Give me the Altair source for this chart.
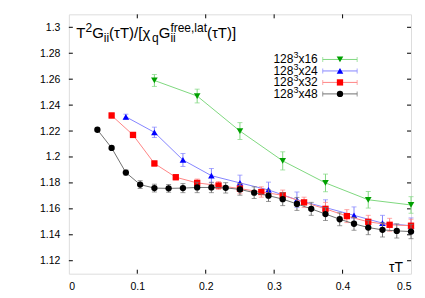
import altair as alt
import pandas as pd

FONT = "Liberation Sans"
W, H = 343, 260
XDOM = [0.0, 0.5]
YDOM = [1.11, 1.31]

# ---------------- data ----------------
series_names = ["128³x16", "128³x24", "128³x32", "128³x48"]
legend_base = ["128", "128", "128", "128"]
legend_sup = ["3", "3", "3", "3"]
legend_tail = ["x16", "x24", "x32", "x48"]

nt16_x = [0.125, 0.1875, 0.25, 0.3125, 0.375, 0.4375, 0.5]
nt16_y = [1.259, 1.247, 1.220, 1.197, 1.180, 1.167, 1.163]
nt16_e = [0.0046, 0.0053, 0.0065, 0.0070, 0.0068, 0.0064, 0.0064]

nt24_x = [0.0833, 0.125, 0.1667, 0.2083, 0.25, 0.2917, 0.3333, 0.375, 0.4167, 0.4583, 0.5]
nt24_y = [1.231, 1.219, 1.1977, 1.1856, 1.180, 1.1746, 1.167, 1.161, 1.155, 1.149, 1.147]
nt24_e = [0.002, 0.004, 0.005, 0.0055, 0.006, 0.006, 0.006, 0.006, 0.0065, 0.006, 0.006]

nt32_x = [0.0625, 0.09375, 0.125, 0.15625, 0.1875, 0.21875, 0.25, 0.28125, 0.3125,
          0.34375, 0.375, 0.40625, 0.4375, 0.46875, 0.5]
nt32_y = [1.232, 1.217, 1.195, 1.1844, 1.180, 1.178, 1.1756, 1.173, 1.1705,
          1.165, 1.160, 1.1544, 1.150, 1.1477, 1.147]
nt32_e = [0.002, 0.002, 0.002, 0.002, 0.003, 0.003, 0.004, 0.004, 0.004,
          0.004, 0.005, 0.005, 0.005, 0.005, 0.005]

nt48_x = [0.0417, 0.0625, 0.0833, 0.1042, 0.125, 0.1458, 0.1667, 0.1875, 0.2083,
          0.2292, 0.25, 0.2708, 0.2917, 0.3125, 0.3333, 0.3542, 0.375, 0.3958,
          0.4167, 0.4375, 0.4583, 0.4792, 0.5]
nt48_y = [1.221, 1.207, 1.188, 1.1787, 1.176, 1.1758, 1.176, 1.1765, 1.1765,
          1.1762, 1.175, 1.1725, 1.1702, 1.1675, 1.1638, 1.160, 1.156, 1.152,
          1.1485, 1.1456, 1.1438, 1.143, 1.1425]
nt48_e = [0.001, 0.001, 0.002, 0.003, 0.003, 0.003, 0.0035, 0.004, 0.004,
          0.004, 0.0045, 0.0045, 0.0045, 0.005, 0.005, 0.005, 0.005, 0.005,
          0.005, 0.0055, 0.0055, 0.0055, 0.0055]

x_ticks = [0.0, 0.1, 0.2, 0.3, 0.4, 0.5]
y_ticks = [1.12, 1.14, 1.16, 1.18, 1.20, 1.22, 1.24, 1.26, 1.28, 1.30]

# ---------------- styles ----------------
styles = [
    dict(shape="triangle-down", mark="#00a000", line="#80d880", size=44),
    dict(shape="triangle-up", mark="#0000ff", line="#8585ff", size=44),
    dict(shape="square", mark="#ff0000", line="#ff8585", size=40),
    dict(shape="circle", mark="#000000", line="#707070", size=40),
]
all_data = [(nt16_x, nt16_y, nt16_e), (nt24_x, nt24_y, nt24_e),
            (nt32_x, nt32_y, nt32_e), (nt48_x, nt48_y, nt48_e)]

xs = alt.Scale(domain=XDOM, nice=False, zero=False)
ys = alt.Scale(domain=YDOM, nice=False, zero=False)
xaxis = alt.Axis(values=x_ticks, format="~g", ticks=False, domain=False, grid=False,
                 labelFont=FONT, labelFontSize=10.5, labelColor="black",
                 labelPadding=8, title=None)
yaxis = alt.Axis(values=y_ticks, format="~g", ticks=False, domain=False, grid=False,
                 labelFont=FONT, labelFontSize=10.5, labelColor="black",
                 labelPadding=9, title=None)


def X(f):
    return alt.X(f, type="quantitative", scale=xs, axis=xaxis)


def Y(f):
    return alt.Y(f, type="quantitative", scale=ys, axis=yaxis)


CW = {"T": 0.611, "G": 0.778, "(": 0.333, ")": 0.333, "τ": 0.52, "/": 0.278, "[": 0.278,
      "]": 0.278, "χ": 0.52, "2": 0.556, "i": 0.222, "q": 0.556, "f": 0.278, "r": 0.333,
      "e": 0.556, ",": 0.278, "l": 0.222, "a": 0.556, "t": 0.278, "1": 0.556, "3": 0.556,
      "4": 0.556, "6": 0.556, "8": 0.556, "x": 0.5}


def tw(s, fs):
    return sum(CW.get(c, 0.55) for c in s) * fs


layers = []

# inside ticks (gnuplot style)
xt = pd.DataFrame({"v": x_ticks[1:-1]})
yt = pd.DataFrame({"v": y_ticks})
layers.append(alt.Chart(xt).mark_rule(color="black", strokeWidth=1).encode(
    x=X("v"), y=alt.value(H), y2=alt.value(H - 4)))
layers.append(alt.Chart(xt).mark_rule(color="black", strokeWidth=1).encode(
    x=X("v"), y=alt.value(0), y2=alt.value(4)))
layers.append(alt.Chart(yt).mark_rule(color="black", strokeWidth=1).encode(
    y=Y("v"), x=alt.value(0), x2=alt.value(4)))
layers.append(alt.Chart(yt).mark_rule(color="black", strokeWidth=1).encode(
    y=Y("v"), x=alt.value(W), x2=alt.value(W - 4)))

# data series
for name, (sx, sy, se), st in zip(series_names, all_data, styles):
    df = pd.DataFrame({"x": sx, "y": sy, "e": se})
    base = alt.Chart(df).transform_calculate(lo="datum.y - datum.e", hi="datum.y + datum.e")
    layers.append(base.mark_line(color=st["line"], strokeWidth=1).encode(x=X("x"), y=Y("y")))
    layers.append(base.mark_rule(color=st["line"], strokeWidth=1).encode(
        x=X("x"), y=Y("lo:Q"), y2="hi:Q"))
    layers.append(base.mark_tick(color=st["line"], orient="horizontal", size=5, thickness=1).encode(
        x=X("x"), y=Y("lo:Q")))
    layers.append(base.mark_tick(color=st["line"], orient="horizontal", size=5, thickness=1).encode(
        x=X("x"), y=Y("hi:Q")))
    layers.append(base.mark_point(shape=st["shape"], filled=True, opacity=1,
                                  color=st["mark"], size=st["size"]).encode(x=X("x"), y=Y("y")))

# legend (inside, top right)
leg_y0, leg_dy = 1.2752, 0.00885
leg_text_x, leg_x0, leg_x1, leg_xm = 0.3637, 0.371, 0.4213, 0.3962
LF, LS = 12, 9
for i, st in enumerate(styles):
    ld = pd.DataFrame({"a": [legend_base[i]], "b": [legend_sup[i]], "c": [legend_tail[i]],
                       "y": [leg_y0 - i * leg_dy],
                       "tx": [leg_text_x], "x0": [leg_x0], "x1": [leg_x1], "xm": [leg_xm]})
    lb = alt.Chart(ld)
    wc = tw(legend_tail[i], LF)
    wb = tw(legend_sup[i], LS)
    layers.append(lb.mark_text(font=FONT, fontSize=LF, align="right", baseline="alphabetic",
                               color="black", dy=4).encode(x=X("tx"), y=Y("y"), text="c:N"))
    layers.append(lb.mark_text(font=FONT, fontSize=LS, align="right", baseline="alphabetic",
                               color="black", dx=-wc, dy=-1).encode(x=X("tx"), y=Y("y"), text="b:N"))
    layers.append(lb.mark_text(font=FONT, fontSize=LF, align="right", baseline="alphabetic",
                               color="black", dx=-(wc + wb), dy=4).encode(x=X("tx"), y=Y("y"), text="a:N"))
    layers.append(lb.mark_rule(color=st["line"], strokeWidth=1).encode(
        x=X("x0"), x2="x1:Q", y=Y("y")))
    layers.append(lb.mark_tick(color=st["line"], orient="vertical", size=5, thickness=1).encode(
        x=X("x0"), y=Y("y")))
    layers.append(lb.mark_tick(color=st["line"], orient="vertical", size=5, thickness=1).encode(
        x=X("x1"), y=Y("y")))
    layers.append(lb.mark_point(shape=st["shape"], filled=True, opacity=1,
                                color=st["mark"], size=st["size"]).encode(x=X("xm"), y=Y("y")))

# title inside plot: T^2 G_ii(τT)/[χ_q G_ii^{free,lat}(τT)]
MAIN, SMALL = 15, 12
SUP, SUB = -6, 4

pieces = [("T", MAIN, 0), ("2", SMALL, SUP), ("G", MAIN, 0), ("ii", SMALL, SUB),
          ("(τT)/[χ", MAIN, 0), ("q", SMALL, SUB), ("G", MAIN, 0),
          (("free,lat", "ii"), SMALL, None), ("(τT)]", MAIN, 0)]
tx, ty = 7.5, 24
dummy = pd.DataFrame({"a": [0]})
for txt, fs, off in pieces:
    if isinstance(txt, tuple):
        layers.append(alt.Chart(dummy).mark_text(text=txt[0], font=FONT, fontSize=fs, align="left",
                                                 baseline="alphabetic", color="black").encode(
            x=alt.value(tx), y=alt.value(ty + SUP)))
        layers.append(alt.Chart(dummy).mark_text(text=txt[1], font=FONT, fontSize=fs, align="left",
                                                 baseline="alphabetic", color="black").encode(
            x=alt.value(tx), y=alt.value(ty + SUB)))
        tx += max(tw(txt[0], fs), tw(txt[1], fs))
    else:
        layers.append(alt.Chart(dummy).mark_text(text=txt, font=FONT, fontSize=fs, align="left",
                                                 baseline="alphabetic", color="black").encode(
            x=alt.value(tx), y=alt.value(ty + off)))
        tx += tw(txt, fs)

# x-axis label inside plot
layers.append(alt.Chart(dummy).mark_text(text="τT", font=FONT, fontSize=14, align="right",
                                         baseline="alphabetic", color="black").encode(
    x=alt.value(W - 8), y=alt.value(H - 2)))

chart = alt.layer(*layers).properties(
    width=W, height=H,
    autosize=alt.AutoSizeParams(type="none"),
    padding={"left": 61, "top": 6, "right": 6, "bottom": 18},
).configure_view(stroke="#111111", strokeWidth=1).configure(background="white")

chart.save("out.html", embed_options={"renderer": "svg", "actions": False})
